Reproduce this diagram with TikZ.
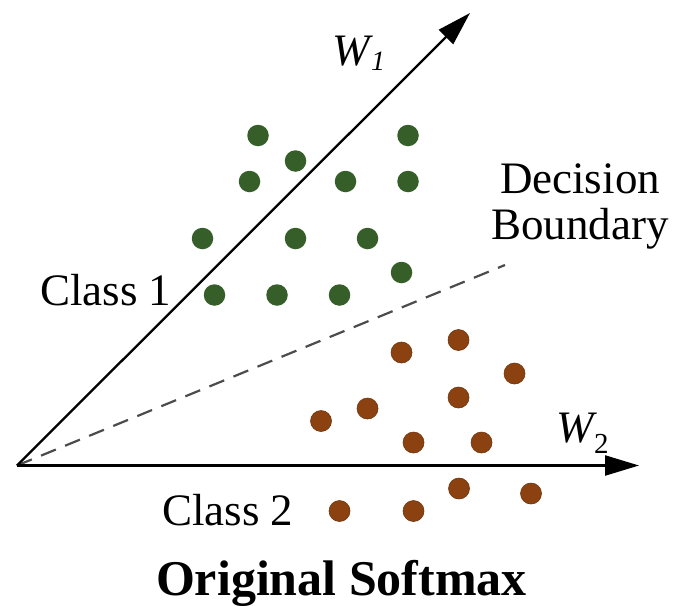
\documentclass[tikz,border=0pt]{standalone}
\usepackage{fontspec}
\setmainfont{Liberation Serif}
\usetikzlibrary{arrows.meta}
\definecolor{dotgreen}{RGB}{53,94,41}
\definecolor{dotbrown}{RGB}{139,66,16}
\tikzset{
  gdot/.style={circle,fill=dotgreen,inner sep=0pt,minimum size=21.5pt},
  bdot/.style={circle,fill=dotbrown,draw=dotbrown!80!black,line width=0.6pt,inner sep=0pt,minimum size=21pt},
  axis/.style={line width=2.3pt,-{Triangle[length=34pt,width=20pt]}},
  lbl/.style={inner sep=0pt,font=\fontsize{45}{46}\selectfont},
}
\begin{document}
\begin{tikzpicture}[x=1pt,y=-1pt]
\useasboundingbox (0,0) rectangle (679,605);
\coordinate (O) at (17,465.5);
\coordinate (T1) at (470,13);
\coordinate (T2) at (639,465.5);
\coordinate (D) at (505,265);
% green dots
\foreach \n/\x/\y in {1/258/135.5,2/408/135.5,3/295.5/161,4/249.5/181.5,5/345.5/181.5,6/408/181.5,7/202.5/238.5,8/295.5/238.5,9/367.5/238.5,10/401.5/272.5,11/214.5/295,12/277/295,13/339.5/295}
  \node[gdot] (g\n) at (\x,\y) {};
% brown dots
\foreach \n/\x/\y in {1/401.5/352.5,2/458.5/340,3/514.5/373.5,4/458.5/397.5,5/367.5/408.5,6/321/421,7/413.5/442.5,8/481.5/442.5,9/459/488.5,10/531/493.5,11/339.5/511,12/413.5/511}
  \node[bdot] (b\n) at (\x,\y) {};
\draw[dash pattern=on 16pt off 10pt,line width=2.2pt,color=black!70] (O) -- (D);
\draw[axis] (O) -- (T1);
\draw[axis] (O) -- (T2);
\node[lbl,anchor=base west] (w1) at (332,65) {\textit{W}\kern-2pt\raisebox{-0.12em}{\fontsize{28}{28}\selectfont\itshape 1}};
\node[lbl,anchor=base west] (w2) at (556,442) {\textit{W}\kern-3pt\raisebox{-0.25em}{\fontsize{29}{29}\selectfont 2}};
\node[lbl,align=center,anchor=base] (db) at (580,239) {Decision\\Boundary};
\node[lbl,anchor=base west] (c1) at (40,305) {Class 1};
\node[lbl,anchor=base west] (c2) at (162,525) {Class 2};
\node[inner sep=0pt,anchor=base,font=\fontsize{50}{55}\selectfont\bfseries] (title) at (341.5,595) {Original Softmax};
\end{tikzpicture}
\end{document}
